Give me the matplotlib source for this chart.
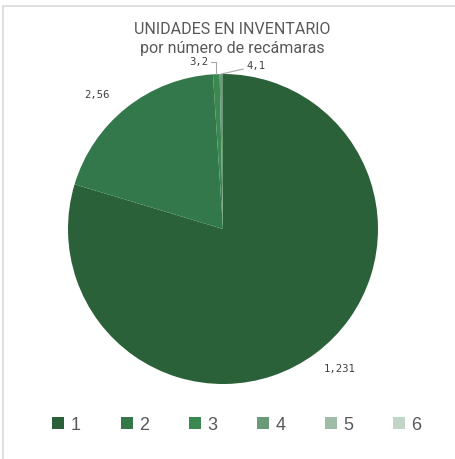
import matplotlib
matplotlib.use("Agg")
import matplotlib.pyplot as plt
from matplotlib.patches import Rectangle
import numpy as np

categories = ["1", "2", "3", "4", "5", "6"]
values = [231, 56, 2, 1, 0, 0]
colors = ["#2b6139", "#32784a", "#3a8750", "#6a9a78", "#9fbda6", "#c2d5c7"]
title_lines = ["UNIDADES EN INVENTARIO", "por número de recámaras"]

W, H = 456, 459
fig = plt.figure(figsize=(W / 100, H / 100), dpi=100)

# light frame
fig.patches.append(Rectangle((3 / W, -0.1), 1.2, 1 - 6 / H + 0.1, transform=fig.transFigure,
                             fill=False, edgecolor="#d9d9d9", linewidth=1.2))

cx, cy, r = 223, 229, 155
ax = fig.add_axes([(cx - r) / W, (H - cy - r) / H, 2 * r / W, 2 * r / H])

wedges, _ = ax.pie(values, colors=colors, startangle=90, counterclock=False,
                   radius=1, wedgeprops=dict(edgecolor="none", linewidth=0))
ax.set_xlim(-1, 1)
ax.set_ylim(-1, 1)
ax.set_aspect("equal")
ax.axis("off")

lab_font = dict(family="DejaVu Sans Mono", fontsize=7.6, color="#404040")
big_offsets = {0: (0.05, 0.045), 1: (-0.08, -0.06)}
for i, (w, cat, v) in enumerate(zip(wedges, categories, values)):
    if v == 0:
        continue
    mid = np.deg2rad((w.theta1 + w.theta2) / 2)
    txt = f"{cat},{v}"
    if v >= 10:
        rr = 1.18
        ox, oy = big_offsets.get(i, (0, 0))
        ax.text(rr * np.cos(mid) + ox, rr * np.sin(mid) + oy, txt,
                ha="center", va="center", **lab_font)
    else:
        px, py = np.cos(mid), np.sin(mid)
        if i == 2:
            ax.annotate(txt, xy=(px, py), xytext=(px - 0.05, py + 0.08),
                        ha="right", va="center", **lab_font,
                        arrowprops=dict(arrowstyle="-", color="#a6a6a6", lw=0.8,
                                        connectionstyle="angle,angleA=0,angleB=90,rad=0",
                                        shrinkA=0, shrinkB=0))
        else:
            ax.annotate(txt, xy=(px, py), xytext=(px + 0.16, py + 0.05),
                        ha="left", va="center", **lab_font,
                        arrowprops=dict(arrowstyle="-", color="#a6a6a6", lw=0.8,
                                        shrinkA=0, shrinkB=0))

fig.text(232 / W, 1 - 29 / H, title_lines[0], ha="center", va="center",
         fontsize=11.5, color="#595959", family="Roboto")
fig.text(232 / W, 1 - 48 / H, title_lines[1], ha="center", va="center",
         fontsize=11.5, color="#595959", family="Roboto")

leg = fig.legend(wedges, categories, loc="center", bbox_to_anchor=(237 / W, 1 - 425 / H),
                 ncol=6, frameon=False, handlelength=0.67, handleheight=0.67,
                 handletextpad=0.35, columnspacing=2.2, labelcolor="#595959",
                 prop=dict(family="Liberation Sans", size=13))

fig.savefig("out.png", dpi=100)
